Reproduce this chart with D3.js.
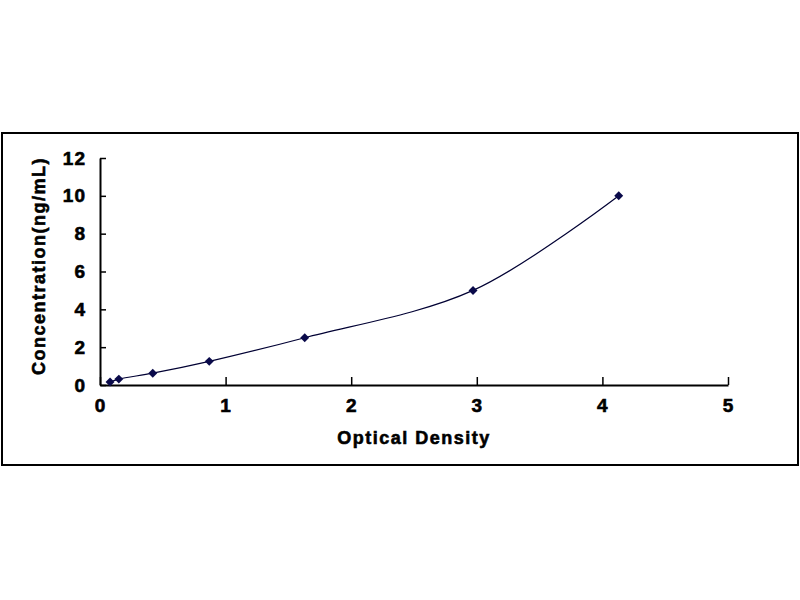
<!DOCTYPE html>
<html>
<head>
<meta charset="utf-8">
<style>
  body { margin: 0; background: #fff; }
  svg text { font-family: Arial, "Liberation Sans", sans-serif; font-weight: bold; fill: #000; stroke: #000; stroke-width: 0.6px; }
</style>
</head>
<body>
<svg width="800" height="600"></svg>
<script src="https://d3js.org/d3.v7.min.js"></script>
<script>
  // standard curve values
  var density = [0.08, 0.15, 0.42, 0.87, 1.63, 2.97, 4.13];
  var concentration = [0.156, 0.312, 0.625, 1.25, 2.5, 5, 10];
  var xTicks = [0, 1, 2, 3, 4, 5];
  var yTicks = [0, 2, 4, 6, 8, 10, 12];

  var svg = d3.select("svg");

  // outer frame
  svg.append("rect")
      .attr("x", 2).attr("y", 133)
      .attr("width", 796).attr("height", 332)
      .attr("fill", "none")
      .attr("stroke", "#000")
      .attr("stroke-width", 2);

  var x = d3.scaleLinear().domain([0, 5]).range([100, 728]);
  var y = d3.scaleLinear().domain([0, 12]).range([385, 158]);

  var data = density.map(function(d, i) {
    return { od: d, conc: concentration[i] };
  });

  var xAxis = svg.append("g")
      .attr("transform", "translate(0,385)")
      .call(d3.axisBottom(x).tickValues(xTicks).tickFormat(d3.format("d"))
        .tickSizeInner(-8).tickSizeOuter(0).tickPadding(14));

  var yAxis = svg.append("g")
      .attr("transform", "translate(100,0)")
      .call(d3.axisLeft(y).tickValues(yTicks).tickFormat(d3.format("d"))
        .tickSizeInner(-6).tickSizeOuter(0).tickPadding(14));

  [xAxis, yAxis].forEach(function(a) {
    a.select(".domain").attr("stroke", "#000").attr("stroke-width", 2);
    a.selectAll(".tick line").attr("stroke", "#000").attr("stroke-width", 1.5);
    a.selectAll(".tick text")
        .attr("font-size", 19)
        .attr("font-family", "Arial, 'Liberation Sans', sans-serif")
        .attr("font-weight", "bold")
        .attr("fill", "#000")
        .style("letter-spacing", "1px");
  });

  // axis titles
  svg.append("text")
      .attr("x", 414)
      .attr("y", 444)
      .attr("text-anchor", "middle")
      .attr("font-size", 18)
      .style("letter-spacing", "1.5px")
      .text("Optical Density");

  svg.append("text")
      .attr("transform", "translate(45,266) rotate(-90)")
      .attr("text-anchor", "middle")
      .attr("font-size", 18)
      .style("letter-spacing", "1.5px")
      .text("Concentration(ng/mL)");

  var line = d3.line()
      .x(function(d) { return x(d.od); })
      .y(function(d) { return y(d.conc); })
      .curve(d3.curveCatmullRom.alpha(0.5));

  svg.append("path")
      .datum(data)
      .attr("fill", "none")
      .attr("stroke", "#000033")
      .attr("stroke-width", 1.2)
      .attr("d", line);

  svg.selectAll(".pt")
      .data(data)
      .enter().append("path")
      .attr("class", "pt")
      .attr("d", d3.symbol().type(d3.symbolSquare).size(40))
      .attr("transform", function(d) {
        return "translate(" + x(d.od) + "," + y(d.conc) + ") rotate(45)";
      })
      .attr("fill", "#0a0a4a");
</script>
</body>
</html>
